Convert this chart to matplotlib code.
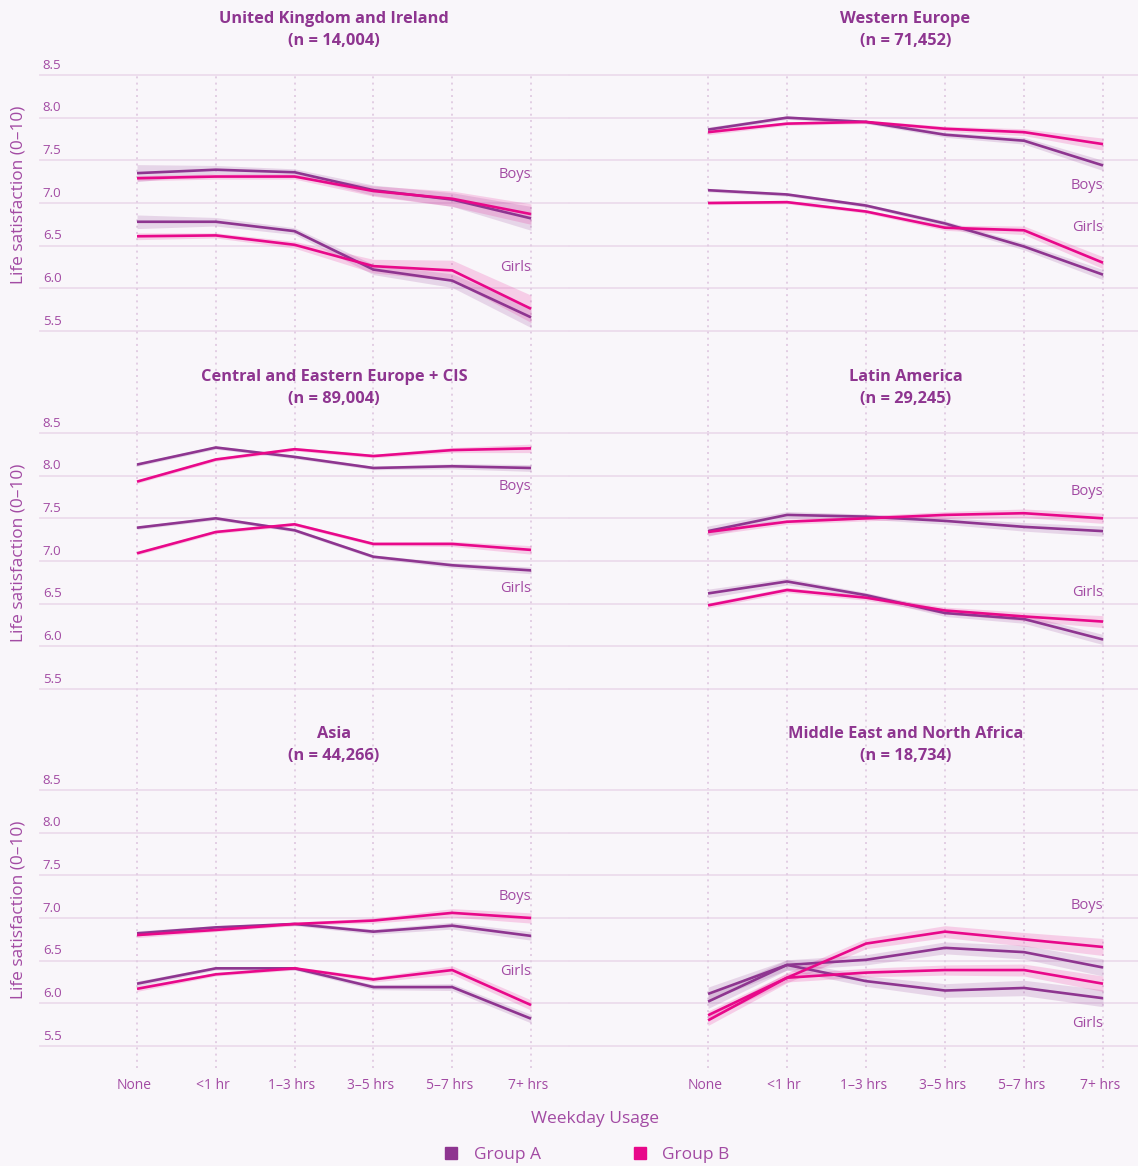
import numpy as np
import matplotlib
matplotlib.use("Agg")
import matplotlib.pyplot as plt
import matplotlib.transforms as mtransforms
from matplotlib.lines import Line2D

plt.rcParams['font.family'] = ['Open Sans', 'DejaVu Sans']

# weekday usage categories
usage = ['None', '<1 hr', '1\u20133 hrs', '3\u20135 hrs', '5\u20137 hrs', '7+ hrs']
yticks = [5.5, 6.0, 6.5, 7.0, 7.5, 8.0, 8.5]

# mean life satisfaction (0-10) and half-width of the confidence band
uk_boys_a = [7.35, 7.39, 7.36, 7.15, 7.04, 6.82]
uk_boys_b = [7.29, 7.31, 7.31, 7.14, 7.05, 6.87]
uk_girls_a = [6.78, 6.78, 6.67, 6.22, 6.09, 5.66]
uk_girls_b = [6.61, 6.62, 6.51, 6.26, 6.21, 5.76]
uk_boys_a_ci = [0.10, 0.05, 0.04, 0.06, 0.08, 0.14]
uk_boys_b_ci = [0.03, 0.03, 0.03, 0.06, 0.09, 0.12]
uk_girls_a_ci = [0.08, 0.05, 0.04, 0.06, 0.08, 0.12]
uk_girls_b_ci = [0.04, 0.03, 0.04, 0.08, 0.12, 0.16]

we_boys_a = [7.86, 8.00, 7.95, 7.80, 7.73, 7.44]
we_boys_b = [7.83, 7.93, 7.95, 7.87, 7.83, 7.69]
we_girls_a = [7.15, 7.10, 6.97, 6.76, 6.49, 6.16]
we_girls_b = [7.00, 7.01, 6.90, 6.71, 6.68, 6.30]
we_boys_a_ci = [0.03, 0.02, 0.02, 0.03, 0.04, 0.06]
we_boys_b_ci = [0.03, 0.02, 0.02, 0.03, 0.04, 0.07]
we_girls_a_ci = [0.02, 0.02, 0.02, 0.03, 0.04, 0.06]
we_girls_b_ci = [0.02, 0.02, 0.02, 0.03, 0.05, 0.07]

cee_boys_a = [8.13, 8.33, 8.22, 8.09, 8.11, 8.09]
cee_boys_b = [7.93, 8.19, 8.31, 8.23, 8.30, 8.32]
cee_girls_a = [7.39, 7.50, 7.36, 7.05, 6.95, 6.89]
cee_girls_b = [7.09, 7.34, 7.43, 7.20, 7.20, 7.13]
cee_boys_a_ci = [0.02, 0.02, 0.02, 0.02, 0.03, 0.04]
cee_boys_b_ci = [0.02, 0.02, 0.02, 0.02, 0.03, 0.05]
cee_girls_a_ci = [0.02, 0.02, 0.02, 0.02, 0.03, 0.04]
cee_girls_b_ci = [0.02, 0.02, 0.02, 0.02, 0.03, 0.05]

la_boys_a = [7.35, 7.54, 7.52, 7.47, 7.40, 7.35]
la_boys_b = [7.34, 7.46, 7.50, 7.54, 7.56, 7.50]
la_girls_a = [6.62, 6.76, 6.60, 6.39, 6.32, 6.08]
la_girls_b = [6.48, 6.66, 6.57, 6.42, 6.35, 6.29]
la_boys_a_ci = [0.06, 0.04, 0.03, 0.04, 0.05, 0.06]
la_boys_b_ci = [0.04, 0.03, 0.03, 0.04, 0.05, 0.06]
la_girls_a_ci = [0.05, 0.04, 0.03, 0.04, 0.05, 0.06]
la_girls_b_ci = [0.03, 0.03, 0.03, 0.04, 0.05, 0.07]

asia_boys_a = [6.82, 6.89, 6.93, 6.84, 6.91, 6.79]
asia_boys_b = [6.80, 6.86, 6.93, 6.97, 7.06, 7.00]
asia_girls_a = [6.23, 6.41, 6.41, 6.19, 6.19, 5.82]
asia_girls_b = [6.17, 6.34, 6.41, 6.28, 6.39, 5.98]
asia_boys_a_ci = [0.03, 0.02, 0.02, 0.03, 0.04, 0.05]
asia_boys_b_ci = [0.03, 0.02, 0.02, 0.03, 0.05, 0.06]
asia_girls_a_ci = [0.03, 0.02, 0.02, 0.03, 0.04, 0.05]
asia_girls_b_ci = [0.03, 0.02, 0.02, 0.03, 0.05, 0.06]

mena_boys_a = [6.02, 6.45, 6.51, 6.65, 6.60, 6.42]
mena_boys_b = [5.80, 6.30, 6.70, 6.84, 6.75, 6.66]
mena_girls_a = [6.11, 6.45, 6.26, 6.15, 6.18, 6.06]
mena_girls_b = [5.86, 6.30, 6.36, 6.39, 6.39, 6.23]
mena_boys_a_ci = [0.08, 0.06, 0.06, 0.07, 0.08, 0.10]
mena_boys_b_ci = [0.06, 0.06, 0.06, 0.07, 0.08, 0.10]
mena_girls_a_ci = [0.08, 0.06, 0.06, 0.08, 0.09, 0.10]
mena_girls_b_ci = [0.05, 0.05, 0.05, 0.06, 0.07, 0.09]

regions = [
    ('United Kingdom and Ireland', '14,004',
     uk_boys_a, uk_boys_b, uk_girls_a, uk_girls_b,
     uk_boys_a_ci, uk_boys_b_ci, uk_girls_a_ci, uk_girls_b_ci, (7.33, 6.24)),
    ('Western Europe', '71,452',
     we_boys_a, we_boys_b, we_girls_a, we_girls_b,
     we_boys_a_ci, we_boys_b_ci, we_girls_a_ci, we_girls_b_ci, (7.21, 6.71)),
    ('Central and Eastern Europe + CIS', '89,004',
     cee_boys_a, cee_boys_b, cee_girls_a, cee_girls_b,
     cee_boys_a_ci, cee_boys_b_ci, cee_girls_a_ci, cee_girls_b_ci, (7.87, 6.68)),
    ('Latin America', '29,245',
     la_boys_a, la_boys_b, la_girls_a, la_girls_b,
     la_boys_a_ci, la_boys_b_ci, la_girls_a_ci, la_girls_b_ci, (7.81, 6.63)),
    ('Asia', '44,266',
     asia_boys_a, asia_boys_b, asia_girls_a, asia_girls_b,
     asia_boys_a_ci, asia_boys_b_ci, asia_girls_a_ci, asia_girls_b_ci, (7.25, 6.37)),
    ('Middle East and North Africa', '18,734',
     mena_boys_a, mena_boys_b, mena_girls_a, mena_girls_b,
     mena_boys_a_ci, mena_boys_b_ci, mena_girls_a_ci, mena_girls_b_ci, (7.15, 5.76)),
]

bg = '#f9f6fa'
purple = '#8e3590'
pink = '#e8088a'
text_c = '#a24aa3'
title_c = '#8e3590'
grid_c = '#ecdcec'
vgrid_c = '#e2cde3'

W, H = 1138, 1166
fig = plt.figure(figsize=(W / 100, H / 100), dpi=100, facecolor=bg)

# axes boxes in pixels: (left, right) per column, (top, bottom) per row
cols = [(40, 569, (-1.231, 5.482)), (569, 1138, (-1.76, 5.443))]
rows = [(75, 433), (433, 790), (790, 1068)]
px_per_unit = 85.33

x = np.arange(len(usage))

for i, reg in enumerate(regions):
    (name, n, ba, bb, ga, gb, ba_ci, bb_ci, ga_ci, gb_ci, lab_y) = reg
    r, c = divmod(i, 2)
    left, right, xl = cols[c]
    top, bot = rows[r]
    ax = fig.add_axes([left / W, 1 - bot / H, (right - left) / W, (bot - top) / H])
    ax.set_facecolor('none')
    ax.set_xlim(*xl)
    ax.set_ylim(8.5 - (bot - top) / px_per_unit, 8.5)
    for s in ax.spines.values():
        s.set_visible(False)
    ax.set_xticks([])
    ax.set_yticks([])

    for yt in yticks:
        ax.axhline(yt, color=grid_c, lw=1.3, clip_on=False, zorder=0)
    for xv in x:
        ax.axvline(xv, color=vgrid_c, lw=1.4, ls=(0, (1, 2.2)), zorder=0)

    for vals, ci, col in [(ba, ba_ci, purple), (ga, ga_ci, purple),
                          (bb, bb_ci, pink), (gb, gb_ci, pink)]:
        v = np.array(vals)
        e = np.array(ci)
        ax.fill_between(x, v - e, v + e, color=col, alpha=0.17, lw=0, zorder=1)
    for vals, col in [(ba, purple), (ga, purple), (bb, pink), (gb, pink)]:
        ax.plot(x, vals, color=col, lw=1.9, zorder=3, solid_capstyle='butt')

    ax.text(5, lab_y[0], 'Boys', ha='right', va='center', fontsize=10.5, color=text_c)
    ax.text(5, lab_y[1], 'Girls', ha='right', va='center', fontsize=10.5, color=text_c)

    ax.annotate(name + '\n(n = ' + n + ')', xy=(2.5, 8.5), xytext=(0, 19),
                textcoords='offset points', ha='center', va='bottom',
                fontsize=11.8, fontweight='bold', color=title_c,
                linespacing=1.45, annotation_clip=False)

    if c == 0:
        for yt in yticks:
            ax.annotate('%.1f' % yt, xy=(0, yt), xycoords=('axes fraction', 'data'),
                        xytext=(2, 2.5), textcoords='offset points',
                        ha='left', va='bottom', fontsize=9.5, color=text_c,
                        annotation_clip=False)
        tr = mtransforms.blended_transform_factory(fig.transFigure, ax.transData)
        ax.text(19 / W, 7.1, 'Life satisfaction (0\u201310)', transform=tr,
                rotation=90, ha='center', va='center', fontsize=12.4, color=text_c)

    if r == 2:
        for xv, lab in zip(x, usage):
            ax.annotate(lab, xy=(xv, 0), xycoords=('data', 'axes fraction'),
                        xytext=(-2, -7), textcoords='offset points',
                        ha='center', va='top', fontsize=10, color=text_c,
                        annotation_clip=False)

fig.text(595 / W, 1 - 1119 / H, 'Weekday Usage', ha='center', va='center',
         fontsize=12.5, color=text_c)

handles = [Line2D([], [], marker='s', ls='none', color=purple, markersize=8),
           Line2D([], [], marker='s', ls='none', color=pink, markersize=8)]
fig.legend(handles, ['Group A', 'Group B'], loc='center', ncol=2,
           bbox_to_anchor=(586 / W, 1 - 1155 / H), frameon=False,
           fontsize=12.5, labelcolor=text_c, handletextpad=0.8,
           columnspacing=5.2, handlelength=1.0)

fig.savefig('out.png', dpi=100, facecolor=bg)
